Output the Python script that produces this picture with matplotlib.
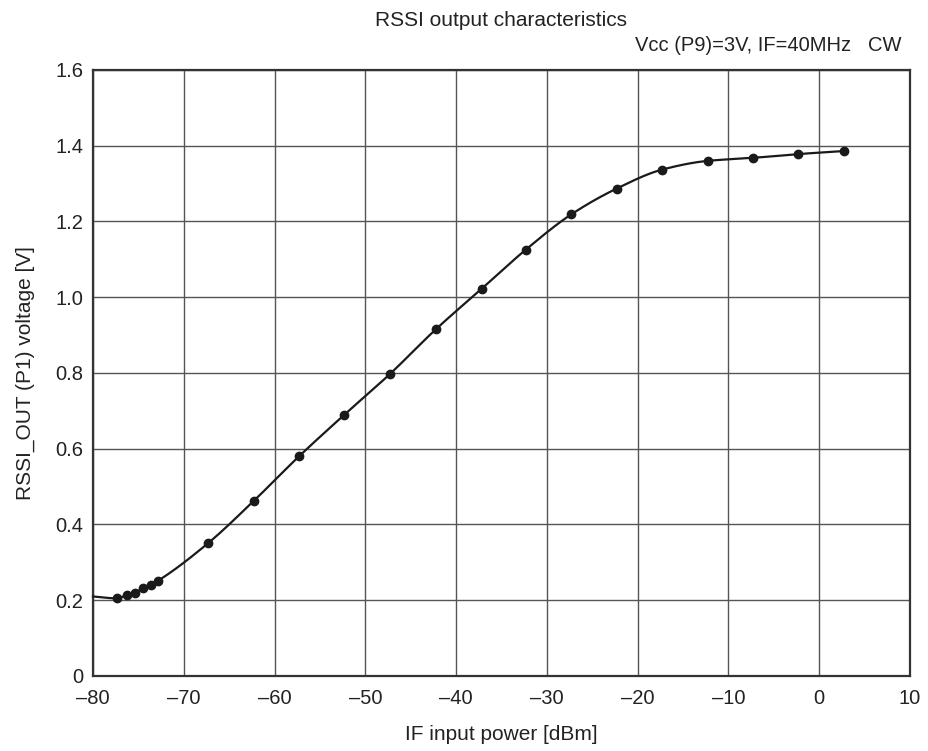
import numpy as np
import matplotlib
matplotlib.use("Agg")
import matplotlib.pyplot as plt

plt.rcParams['font.family'] = ['Liberation Sans', 'DejaVu Sans']

power_dbm = [-77.4, -76.3, -75.4, -74.5, -73.6, -72.8, -67.3, -62.3, -57.3,
             -52.3, -47.3, -42.2, -37.2, -32.35, -27.3, -22.3, -17.3,
             -12.3, -7.3, -2.3, 2.7]
rssi_v = [0.205, 0.213, 0.220, 0.231, 0.241, 0.252, 0.351, 0.462, 0.580,
          0.690, 0.797, 0.916, 1.022, 1.125, 1.219, 1.287, 1.337,
          1.360, 1.368, 1.378, 1.386]

# where the drawn curve starts on the left edge
curve_start_x = -80.0
curve_start_y = 0.21

x_ticks = [-80, -70, -60, -50, -40, -30, -20, -10, 0, 10]
y_ticks = [0, 0.2, 0.4, 0.6, 0.8, 1.0, 1.2, 1.4, 1.6]
y_labels = ['0', '0.2', '0.4', '0.6', '0.8', '1.0', '1.2', '1.4', '1.6']

FS = 14.5
TXT = '#222222'


def pchip(x, y, xs):
    # monotone cubic (Fritsch-Carlson) so the smooth line goes through every point
    x = np.asarray(x, float)
    y = np.asarray(y, float)
    h = np.diff(x)
    d = np.diff(y) / h
    m = np.zeros_like(y)
    for k in range(1, len(x) - 1):
        if d[k - 1] * d[k] > 0:
            w1 = 2 * h[k] + h[k - 1]
            w2 = h[k] + 2 * h[k - 1]
            m[k] = (w1 + w2) / (w1 / d[k - 1] + w2 / d[k])
    m[0] = d[0]
    m[-1] = d[-1]
    idx = np.clip(np.searchsorted(x, xs) - 1, 0, len(h) - 1)
    t = (xs - x[idx]) / h[idx]
    h00 = 2 * t**3 - 3 * t**2 + 1
    h10 = t**3 - 2 * t**2 + t
    h01 = -2 * t**3 + 3 * t**2
    h11 = t**3 - t**2
    return (h00 * y[idx] + h10 * h[idx] * m[idx] + h01 * y[idx + 1]
            + h11 * h[idx] * m[idx + 1])


cx = [curve_start_x] + power_dbm
cy = [curve_start_y] + rssi_v
xs = np.linspace(cx[0], cx[-1], 600)
ys = pchip(cx, cy, xs)

fig = plt.figure(figsize=(9.29, 7.51), dpi=100)
ax = fig.add_axes([0.1001, 0.0999, 0.8794, 0.8069])

ax.plot(xs, ys, color='#1a1a1a', lw=1.6, zorder=3, clip_on=False)
ax.plot(power_dbm, rssi_v, 'o', color='#1a1a1a', ms=6, zorder=4, clip_on=False)

ax.set_xlim(-80, 10)
ax.set_ylim(0, 1.6)
ax.set_xticks(x_ticks)
ax.set_xticklabels([str(v).replace('-', '\u2013') for v in x_ticks])
ax.set_yticks(y_ticks)
ax.set_yticklabels(y_labels)
ax.tick_params(length=0, labelsize=FS, colors=TXT)
ax.tick_params(axis='x', pad=9.5)
ax.tick_params(axis='y', pad=7)
ax.grid(True, color='#555555', lw=1.0)
ax.set_axisbelow(True)
for s in ax.spines.values():
    s.set_color('#333333')
    s.set_linewidth(1.6)

ax.set_xlabel('IF input power [dBm]', fontsize=15, color=TXT)
ax.set_ylabel('RSSI_OUT (P1) voltage [V]', fontsize=15, color=TXT)
ax.xaxis.label.set_va('center')
ax.yaxis.label.set_va('center')
ax.xaxis.set_label_coords(0.5, -0.097)
ax.yaxis.set_label_coords(-0.083, 0.5)

ax.text(0.5, 1.082, 'RSSI output characteristics', transform=ax.transAxes,
        ha='center', va='center', fontsize=15, color=TXT)
ax.text(0.99, 1.04, 'Vcc (P9)=3V, IF=40MHz   CW', transform=ax.transAxes,
        ha='right', va='center', fontsize=FS, color=TXT)

fig.savefig('out.png', dpi=100)
